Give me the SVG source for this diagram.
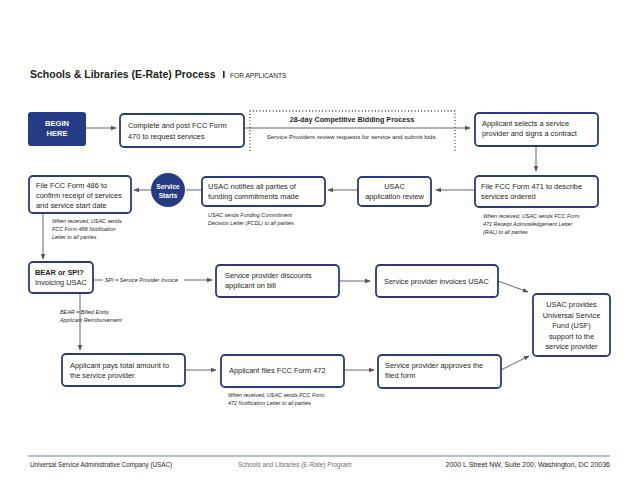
<svg xmlns="http://www.w3.org/2000/svg" width="640" height="495" viewBox="0 0 640 495">
<defs>
<style>
text{font-family:"Liberation Sans","Noto Sans",Arial,sans-serif;fill:#231f20}
.box{fill:#fff;stroke:#2b3b7a;stroke-width:1.8}
.t{font-size:7.4px}
.n{font-size:5.4px;font-style:italic}
.c{text-anchor:middle}
.w{fill:#fff;font-weight:bold;font-size:7.6px;text-anchor:middle}
.ln{stroke:#555;stroke-width:0.9;fill:none}
.ar{stroke:#555;stroke-width:0.9;fill:none;marker-end:url(#ah)}
.dot{stroke:#333;stroke-width:1.3;stroke-dasharray:0.9 2.4;fill:none}
</style>
<marker id="ah" viewBox="0 0 8 8" refX="7" refY="4" markerWidth="6" markerHeight="6" orient="auto" markerUnits="userSpaceOnUse"><path d="M0,1 L8,4 L0,7 Z" fill="#555"/></marker>
</defs>
<rect width="640" height="495" fill="#fff"/>
<g id="title">
<text x="30" y="78" style="font-size:10.5px;font-weight:bold">Schools &amp; Libraries (E-Rate) Process</text>
<rect x="223" y="71" width="1.6" height="7" fill="#231f20"/>
<text x="230" y="78" style="font-size:6.6px">FOR APPLICANTS</text>
</g>
<g id="connectors">
<path class="ar" d="M86,128 H116"/>
<path class="ar" d="M244,128 H470"/>
<path class="ar" d="M536,146 V171"/>
<path class="ar" d="M475,190 H436"/>
<path class="ar" d="M358,190 H328"/>
<path class="ln" d="M202,190 H186"/>
<path class="ar" d="M151,190 H134"/>
<path class="ar" d="M43,213 V259"/>
<path class="ln" d="M93,280 H103"/>
<path class="ar" d="M184,280 H212"/>
<path class="ar" d="M80,293 V350"/>
<path class="ar" d="M339,281 H370"/>
<path class="ar" d="M498,281 L528,292"/>
<path class="ar" d="M185,370 H216"/>
<path class="ar" d="M344,370 H374"/>
<path class="ar" d="M501,370 L529,356"/>
<text class="n" x="105" y="282">SPI = Service Provider Invoice</text>
<text class="n" x="60" y="314">BEAR = Billed Entity</text>
<text class="n" x="60" y="322">Applicant Reimbursement</text>
</g>
<g id="begin">
<rect x="28" y="112" width="58" height="34" rx="3" fill="#263b85"/>
<text class="w" x="57" y="126">BEGIN</text>
<text class="w" x="57" y="136">HERE</text>
</g>
<g id="form470">
<rect class="box" x="120" y="114" width="124" height="33" rx="4"/>
<text class="t" x="128" y="128">Complete and post FCC Form</text>
<text class="t" x="128" y="139">470 to request services</text>
</g>
<g id="bidding">
<path class="dot" d="M250,151 V111 H455 V151"/>
<text x="352" y="122" class="c" style="font-size:7.2px;font-weight:bold">28-day Competitive Bidding Process</text>
<text x="352" y="139" class="c" style="font-size:6.2px">Service Providers review requests for service and submit bids.</text>
</g>
<g id="select">
<rect class="box" x="475" y="113" width="123" height="33" rx="4"/>
<text class="t" x="482" y="126">Applicant selects a service</text>
<text class="t" x="482" y="136">provider and signs a contract</text>
</g>
<g id="form471">
<rect class="box" x="475" y="176" width="123" height="31" rx="4"/>
<text class="t" x="481" y="189">File FCC Form 471 to describe</text>
<text class="t" x="481" y="199">services ordered</text>
<text class="n" x="483" y="218">When received, USAC sends FCC Form</text>
<text class="n" x="483" y="226">471 Receipt Acknowledgement Letter</text>
<text class="n" x="483" y="234">(RAL) to all parties</text>
</g>
<g id="review">
<rect class="box" x="358" y="177" width="73" height="29" rx="4"/>
<text class="t c" x="394.5" y="189">USAC</text>
<text class="t c" x="394.5" y="199">application review</text>
</g>
<g id="notify">
<rect class="box" x="202" y="177" width="123" height="29" rx="4"/>
<text class="t" x="208" y="189">USAC notifies all parties of</text>
<text class="t" x="208" y="199">funding commitments made</text>
<text class="n" x="208" y="217">USAC sends Funding Commitment</text>
<text class="n" x="208" y="225">Decision Letter (FCDL) to all parties</text>
</g>
<g id="starts">
<circle cx="168" cy="190" r="17" fill="#263b85"/>
<text class="w" x="168" y="189" style="font-size:6.6px">Service</text>
<text class="w" x="168" y="198" style="font-size:6.6px">Starts</text>
</g>
<g id="form486">
<rect class="box" x="29" y="176" width="102" height="37" rx="4"/>
<text class="t" x="36" y="188">File FCC Form 486 to</text>
<text class="t" x="36" y="198">confirm receipt of services</text>
<text class="t" x="36" y="208">and service start date</text>
<text class="n" x="52" y="223">When received, USAC sends</text>
<text class="n" x="52" y="231">FCC Form 486 Notification</text>
<text class="n" x="52" y="239">Letter to all parties</text>
</g>
<g id="bear">
<rect class="box" x="29" y="262" width="64" height="31" rx="4"/>
<text class="t" x="35" y="275" style="font-weight:bold">BEAR or SPI?</text>
<text class="t" x="35" y="285">Invoicing USAC</text>
</g>
<g id="discount">
<rect class="box" x="216" y="265" width="123" height="32" rx="4"/>
<text class="t" x="225" y="278">Service provider discounts</text>
<text class="t" x="225" y="288">applicant on bill</text>
</g>
<g id="invoices">
<rect class="box" x="376" y="265" width="122" height="32" rx="4"/>
<text class="t" x="384" y="284">Service provider invoices USAC</text>
</g>
<g id="usf">
<rect class="box" x="533" y="294" width="77" height="62" rx="4"/>
<text class="t c" x="571.5" y="307">USAC provides</text>
<text class="t c" x="571.5" y="317.5">Universal Service</text>
<text class="t c" x="571.5" y="328">Fund (USF)</text>
<text class="t c" x="571.5" y="338.5">support to the</text>
<text class="t c" x="571.5" y="349">service provider</text>
</g>
<g id="pays">
<rect class="box" x="62" y="354" width="123" height="32" rx="4"/>
<text class="t" x="70" y="368">Applicant pays total amount to</text>
<text class="t" x="70" y="378">the service provider</text>
</g>
<g id="form472">
<rect class="box" x="221" y="355" width="123" height="32" rx="4"/>
<text class="t" x="229" y="373">Applicant files FCC Form 472</text>
<text class="n" x="228" y="397">When received, USAC sends FCC Form</text>
<text class="n" x="228" y="405">472 Notification Letter to all parties</text>
</g>
<g id="approves">
<rect class="box" x="378" y="355" width="123" height="33" rx="4"/>
<text class="t" x="385" y="368">Service provider approves the</text>
<text class="t" x="385" y="378">filed form</text>
</g>
<g id="footer">
<line x1="28" y1="456" x2="610" y2="456" stroke="#5f8bab" stroke-width="1"/>
<text x="30" y="467" style="font-size:6.3px">Universal Service Administrative Company (USAC)</text>
<text x="238" y="467" style="font-size:6.4px;fill:#6d6e71">Schools and Libraries (E-Rate) Program</text>
<text x="610" y="467" style="font-size:7px;text-anchor:end">2000 L Street NW, Suite 200, Washington, DC 20036</text>
</g>
</svg>
